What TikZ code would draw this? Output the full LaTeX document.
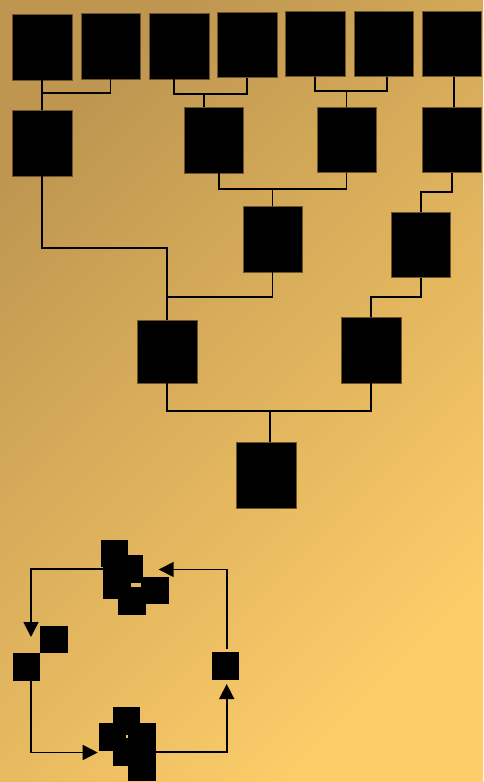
\documentclass[tikz,border=0pt]{standalone}
\usepackage{tikz}
\usetikzlibrary{arrows.meta,positioning,calc}
\definecolor{goldA}{RGB}{190,150,80}
\definecolor{goldB}{RGB}{253,205,105}
\definecolor{edgeA}{RGB}{110,85,40}

\begin{document}
\begin{tikzpicture}[x=1pt,y=-1pt,
    team/.style={fill=black, draw=edgeA, line width=0.5pt, minimum width=59.5pt, minimum height=65.5pt, inner sep=0pt},
    chip/.style={fill=black, minimum width=27.4pt, minimum height=27.5pt, inner sep=0pt},
    link/.style={line width=1.7pt, black},
    flow/.style={line width=1.6pt, black, -{Triangle[length=15pt,width=15pt]}}]
    % Background
    \shade[top color=goldA, bottom color=goldB, shading angle=45] (0,0) rectangle (483,782);
    \useasboundingbox (0,0) rectangle (483,782);

    % First round
    \node[team] (r1a) at (42.3,47.3) {};
    \node[team] (r1b) at (110.5,46) {};
    \node[team] (r1c) at (179.2,46) {};
    \node[team] (r1d) at (247.2,44.7) {};
    \node[team] (r1e) at (315.3,43.5) {};
    \node[team] (r1f) at (383.5,43.5) {};
    \node[team] (r1g) at (451.8,43.5) {};

    % Second round
    \node[team] (r2a) at (42.3,143.3) {};
    \node[team] (r2b) at (213.7,140.2) {};
    \node[team] (r2c) at (346.5,139.5) {};
    \node[team] (r2d) at (451.8,139.5) {};

    % Third round
    \node[team] (r3a) at (272.5,239.3) {};
    \node[team] (r3b) at (420.7,244.5) {};

    % Semi finals and winner
    \node[team, minimum height=63pt] (r4a) at (167.2,351.7) {};
    \node[team] (r4b) at (371.2,350.2) {};
    \node[team] (champ) at (266.3,475.3) {};

    % Bracket joins
    \coordinate (j1) at (42.3,93.3);
    \coordinate (j2) at (204.3,93.7);
    \coordinate (j3) at (346.5,91);
    \coordinate (j4) at (167.2,248.3);
    \coordinate (j5) at (167.2,296.7);
    \coordinate (j6) at (272.5,189.3);
    \coordinate (j7) at (420.7,191.7);
    \coordinate (j8) at (371.2,297.3);
    \coordinate (j9) at (270.3,411);

    \draw[link] (r1a.south) -- (r2a.north);
    \draw[link] (r1b.south) |- (j1);
    \draw[link] ([xshift=-5.5pt]r1c.south) |- (j2) -| (r1d.south);
    \draw[link] (j2) -- (j2 |- r2b.north);
    \draw[link] (r1e.south) |- (j3) -| ([xshift=3.8pt]r1f.south);
    \draw[link] (j3) -- (r2c.north);
    \draw[link] ([xshift=2.5pt]r1g.south) -- ([xshift=2.5pt]r2d.north);

    \draw[link] (r2a.south) |- (j4) -- (r4a.north);
    \draw[link] ([xshift=5.6pt]r2b.south) |- (j6) -| (r2c.south);
    \draw[link] (j6) -- (r3a.north);
    \draw[link] (r3a.south) |- (j5);
    \draw[link] (r2d.south) |- (j7) -- (r3b.north);
    \draw[link] (r3b.south) |- (j8) -- (r4b.north);
    \draw[link] (r4a.south) |- (j9) -| (r4b.south);
    \draw[link] (j9) -- ([xshift=4pt]champ.north);

    % Cycle: top cluster
    \node[chip] (ct1) at (114.7,553.7) {};
    \node[chip, minimum height=32pt] (ct3) at (117,583) {};
    \node[chip, minimum height=28.3pt] (ct2) at (129.7,569.2) {};
    \node[chip] (ct4) at (155,590.3) {};
    \node[chip, minimum height=28.3pt] (ct5) at (132,600.8) {};

    % Cycle: left and right
    \node[chip] (cl1) at (53.8,639.3) {};
    \node[chip] (cl2) at (26.2,667.2) {};
    \node[chip] (cr) at (225.5,666.2) {};

    % Cycle: bottom cluster
    \node[chip] (cb1) at (126.3,721.2) {};
    \node[chip, minimum height=28pt] (cb2) at (112.2,736.7) {};
    \node[chip, minimum height=28pt] (cb3) at (142,736.7) {};
    \node[chip] (cb4) at (126.3,752) {};
    \node[chip] (cb5) at (142,767.2) {};

    % Cycle arrows
    \coordinate (tipL) at (31,637);
    \coordinate (tipB) at (97.7,752.5);
    \coordinate (tipR) at (226.7,684);
    \coordinate (tipT) at (158.7,569.5);
    \draw[flow] (ct2.west) -| (tipL);
    \draw[flow] ([xshift=4.5pt]cl2.south) |- (tipB);
    \draw[flow] (cb4.east) -| (tipR);
    \draw[flow] ([xshift=1.2pt,yshift=3pt]cr.north) |- (tipT);
\end{tikzpicture}
\end{document}
